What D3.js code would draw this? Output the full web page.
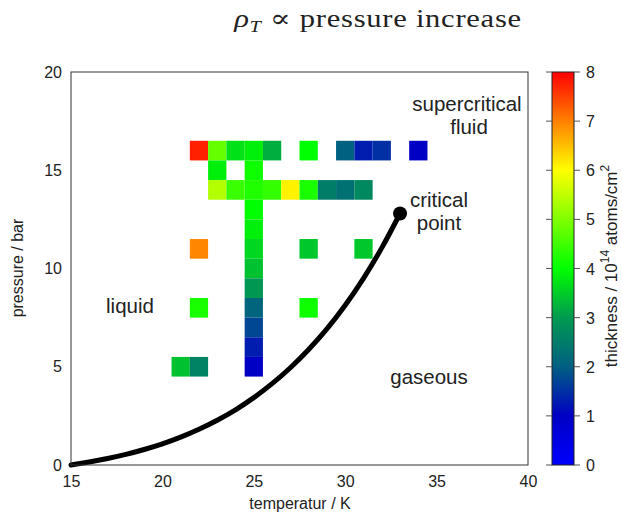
<!DOCTYPE html>
<html>
<head>
<meta charset="utf-8">
<script src="https://cdn.jsdelivr.net/npm/d3@7"></script>
<style>
  body { margin: 0; background: #fff; }
  text { font-family: "Liberation Sans", Arial, sans-serif; fill: #222; }
</style>
</head>
<body>
<svg id="chart" width="622" height="515"></svg>
<script>
// measured cells: temperature (K), pressure (bar), thickness (1e14 atoms/cm^2)
var cellT = [22, 23, 24, 25, 26, 28, 30, 31, 32, 34,
             23, 25,
             23, 24, 25, 26, 27, 28, 29, 30, 31,
             25, 25,
             22, 25, 28, 31,
             25, 25,
             22, 25, 28,
             25, 25,
             21, 22, 25];
var cellP = [16, 16, 16, 16, 16, 16, 16, 16, 16, 16,
             15, 15,
             14, 14, 14, 14, 14, 14, 14, 14, 14,
             13, 12,
             11, 11, 11, 11,
             10, 9,
             8, 8, 8,
             7, 6,
             5, 5, 5];
var cellV = [7.75, 4.8, 3.7, 3.85, 3.2, 4.0, 2.05, 1.3, 1.5, 1.0,
             3.85, 4.1,
             5.4, 4.45, 4.25, 4.4, 6.1, 4.2, 2.5, 2.3, 2.7,
             4.0, 3.85,
             6.95, 3.6, 3.45, 3.45,
             3.4, 2.95,
             4.2, 2.1, 4.1,
             1.75, 1.3,
             3.4, 2.6, 1.0];

// vapour pressure curve up to the critical point
var curveT = [15, 16, 17, 18, 19, 20, 21, 22, 23, 24, 25, 26, 27, 28, 29, 30, 31, 32, 33];
var curveP = [0.0, 0.15, 0.33, 0.54, 0.79, 1.08, 1.42, 1.82, 2.28, 2.81, 3.43, 4.14, 4.95, 5.88, 6.93, 8.13, 9.5, 11.05, 12.8];
var critT = 33, critP = 12.8;

var xTicks = [15, 20, 25, 30, 35, 40];
var yTicks = [0, 5, 10, 15, 20];
var cbTicks = [0, 1, 2, 3, 4, 5, 6, 7, 8];
var paletteVals = [0, 1, 2, 3, 4, 6, 7, 8];
var paletteCols = ["#0000ff", "#0000c4", "#005f82", "#009a50", "#00ff00", "#ffff00", "#ff8000", "#ff0000"];

var svg = d3.select("#chart");
var plot = { left: 71, right: 528, top: 72, bottom: 465 };

var x = d3.scaleLinear().domain([15, 40]).range([plot.left, plot.right]);
var y = d3.scaleLinear().domain([0, 20]).range([plot.bottom, plot.top]);
var color = d3.scaleLinear().domain(paletteVals).range(paletteCols);

// cells
svg.append("g").selectAll("rect")
    .data(cellV.map((v, i) => ({ t: cellT[i], p: cellP[i], v: v })))
    .join("rect")
    .attr("x", d => x(d.t - 0.5))
    .attr("y", d => y(d.p + 0.5))
    .attr("width", d => x(d.t + 0.5) - x(d.t - 0.5))
    .attr("height", d => y(d.p - 0.5) - y(d.p + 0.5))
    .attr("fill", d => color(d.v));

// phase boundary
var line = d3.line()
    .x(d => x(d[0]))
    .y(d => y(d[1]))
    .curve(d3.curveCatmullRom);
svg.append("path")
    .datum(curveT.map((t, i) => [t, curveP[i]]))
    .attr("d", line)
    .attr("fill", "none")
    .attr("stroke", "#000")
    .attr("stroke-width", 5)
    .attr("stroke-linecap", "round");
svg.append("circle")
    .attr("cx", x(critT))
    .attr("cy", y(critP))
    .attr("r", 7)
    .attr("fill", "#000");

// frame
svg.append("rect")
    .attr("x", plot.left).attr("y", plot.top)
    .attr("width", plot.right - plot.left)
    .attr("height", plot.bottom - plot.top)
    .attr("fill", "none")
    .attr("stroke", "#333")
    .attr("stroke-width", 1);

// axes (labels only, as in the original)
var xAxis = svg.append("g")
    .attr("transform", "translate(0," + plot.bottom + ")")
    .call(d3.axisBottom(x).tickValues(xTicks).tickSize(0).tickPadding(11));
var yAxis = svg.append("g")
    .attr("transform", "translate(" + plot.left + ",0)")
    .call(d3.axisLeft(y).tickValues(yTicks).tickSize(0).tickPadding(9));
[xAxis, yAxis].forEach(a => {
    a.select(".domain").remove();
    a.selectAll("text").attr("font-size", 16).attr("font-family", "Liberation Sans, Arial, sans-serif").attr("fill", "#222");
});

svg.append("text")
    .attr("x", 300).attr("y", 509)
    .attr("text-anchor", "middle")
    .attr("font-size", 16)
    .text("temperatur / K");
svg.append("text")
    .attr("transform", "translate(23,268) rotate(-90)")
    .attr("text-anchor", "middle")
    .attr("font-size", 16)
    .text("pressure / bar");

// region labels
var labels = [
    { x: 130, y: 313, s: "liquid" },
    { x: 429, y: 384, s: "gaseous" },
    { x: 467, y: 111, s: "supercritical" },
    { x: 469, y: 134, s: "fluid" },
    { x: 439, y: 207, s: "critical" },
    { x: 439, y: 230, s: "point" }
];
svg.append("g").selectAll("text")
    .data(labels)
    .join("text")
    .attr("x", d => d.x).attr("y", d => d.y)
    .attr("text-anchor", "middle")
    .attr("font-size", 20.5)
    .text(d => d.s);

// title (serif, stretched a little to mimic the LaTeX look)
var title = svg.append("text")
    .attr("transform", "translate(378,27) scale(1.2,1)")
    .attr("text-anchor", "middle")
    .attr("font-size", 25.5)
    .attr("letter-spacing", 0.6)
    .style("font-family", "'Liberation Serif', 'DejaVu Serif', serif");
title.append("tspan").attr("font-style", "italic").text("\u03C1");
title.append("tspan").attr("font-style", "italic").attr("font-size", 17).attr("dy", 5).text("T");
title.append("tspan").attr("dy", -5).text(" \u221D pressure increase");

// colour bar
var cb = { left: 552, right: 574 };
var cy = d3.scaleLinear().domain([0, 8]).range([plot.bottom, plot.top]);
var grad = svg.append("defs").append("linearGradient")
    .attr("id", "cbgrad")
    .attr("x1", 0).attr("y1", 1).attr("x2", 0).attr("y2", 0);
grad.selectAll("stop")
    .data(paletteVals)
    .join("stop")
    .attr("offset", d => d / 8)
    .attr("stop-color", d => color(d));
svg.append("rect")
    .attr("x", cb.left).attr("y", plot.top)
    .attr("width", cb.right - cb.left)
    .attr("height", plot.bottom - plot.top)
    .attr("fill", "url(#cbgrad)")
    .attr("stroke", "#222")
    .attr("stroke-width", 1);
svg.append("g").selectAll("line")
    .data(cbTicks)
    .join("line")
    .attr("x1", cb.left - 6).attr("x2", cb.left)
    .attr("y1", d => cy(d)).attr("y2", d => cy(d))
    .attr("stroke", "#555");
svg.append("g").selectAll("line")
    .data(cbTicks)
    .join("line")
    .attr("x1", cb.right).attr("x2", cb.right + 6)
    .attr("y1", d => cy(d)).attr("y2", d => cy(d))
    .attr("stroke", "#555");
svg.append("g").selectAll("text")
    .data(cbTicks)
    .join("text")
    .attr("x", 586).attr("y", d => cy(d) + 6)
    .attr("font-size", 16)
    .text(d => d);

var cbl = svg.append("text")
    .attr("transform", "translate(617,266) rotate(-90)")
    .attr("text-anchor", "middle")
    .attr("font-size", 17);
cbl.append("tspan").text("thickness / 10");
cbl.append("tspan").attr("font-size", 12).attr("dy", -8).text("14");
cbl.append("tspan").attr("dy", 8).text(" atoms/cm");
cbl.append("tspan").attr("font-size", 12).attr("dy", -8).text("2");
</script>
</body>
</html>
